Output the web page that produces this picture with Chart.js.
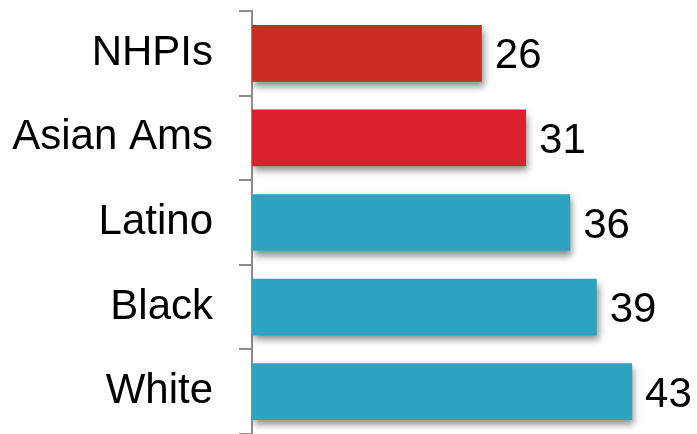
<!DOCTYPE html>
<html>
<head>
<meta charset="utf-8">
<script src="https://cdn.jsdelivr.net/npm/chart.js@4/dist/chart.umd.min.js"></script>
<style>
  html, body { margin: 0; padding: 0; background: #fff; overflow: hidden; }
  #wrap { width: 697px; height: 434px; position: relative; }
</style>
</head>
<body>
<div id="wrap"><canvas id="chart"></canvas></div>
<script>
const categories = ["NHPIs", "Asian Ams", "Latino", "Black", "White"];
const values = [26, 31, 36, 39, 43];
const barColors = ["#C92D22", "#DC1F2C", "#2EA3C0", "#2EA3C0", "#2EA3C0"];

// soft drop shadow under the bars
const shadowPlugin = {
  id: "barShadow",
  beforeDatasetsDraw(chart) {
    const ctx = chart.ctx;
    ctx.save();
    ctx.shadowColor = "rgba(0,0,0,0.45)";
    ctx.shadowBlur = 7;
    ctx.shadowOffsetX = 2;
    ctx.shadowOffsetY = 5;
  },
  afterDatasetsDraw(chart) {
    chart.ctx.restore();
  }
};

// value next to each bar
const valueLabels = {
  id: "valueLabels",
  afterDatasetsDraw(chart) {
    const ctx = chart.ctx;
    const meta = chart.getDatasetMeta(0);
    ctx.save();
    ctx.font = "42px 'Liberation Sans', Arial, sans-serif";
    ctx.fillStyle = "#000";
    ctx.textAlign = "left";
    ctx.textBaseline = "alphabetic";
    meta.data.forEach((bar, i) => {
      ctx.fillText(String(values[i]), bar.x + 13, bar.y + 15);
    });
    ctx.restore();
  }
};

new Chart(document.getElementById("chart"), {
  type: "bar",
  data: {
    labels: categories,
    datasets: [{
      data: values,
      backgroundColor: barColors,
      borderWidth: 0,
      barPercentage: 0.67,
      categoryPercentage: 1
    }]
  },
  options: {
    indexAxis: "y",
    responsive: true,
    maintainAspectRatio: false,
    animation: false,
    layout: { padding: { top: 11, right: 3, bottom: 0, left: 0 } },
    plugins: { legend: { display: false }, tooltip: { enabled: false } },
    scales: {
      x: {
        display: false,
        min: 0,
        max: 50
      },
      y: {
        afterFit(scale) {
          scale.width = 252;
          scale.paddingTop = 0;
          scale.paddingBottom = 0;
        },
        grid: {
          offset: true,
          drawOnChartArea: false,
          drawTicks: true,
          tickLength: 13,
          color: "#8c8c8c",
          lineWidth: 2
        },
        border: { display: true, color: "#8c8c8c", width: 2 },
        ticks: {
          padding: 26,
          color: "#000",
          font: { family: "'Liberation Sans', Arial, sans-serif", size: 42 }
        }
      }
    }
  },
  plugins: [shadowPlugin, valueLabels]
});
</script>
</body>
</html>
